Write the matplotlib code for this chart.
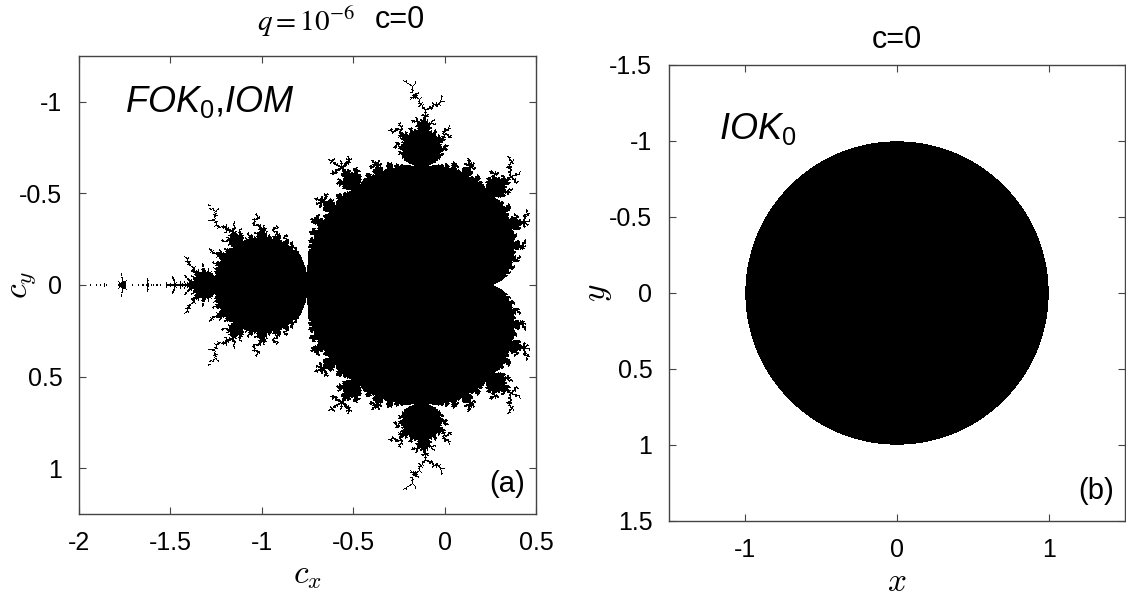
import numpy as np
import matplotlib
matplotlib.use('Agg')
import matplotlib.pyplot as plt

# Panel (a): parameter plane extent and iteration settings
cx_range = [-2.0, 0.5]
cy_range = [-1.25, 1.25]
n_iter = 400
escape_radius = 1000.0
edge_width = 0.12   # boundary thickness in pixels (distance estimate)

# Panel (b): unit disk in the x-y plane
xy_range = [-1.5, 1.5]
disk_center = (0.0, 0.0)
disk_radius = 1.0

a_xticks = [-2, -1.5, -1, -0.5, 0, 0.5]
a_xticklabels = ['-2', '-1.5', '-1', '-0.5', '0', '0.5']
a_yticks = [-1, -0.5, 0, 0.5, 1]
a_yticklabels = ['-1', '-0.5', '0', '0.5', '1']
b_xticks = [-1, 0, 1]
b_xticklabels = ['-1', '0', '1']
b_yticks = [-1.5, -1, -0.5, 0, 0.5, 1, 1.5]
b_yticklabels = ['-1.5', '-1', '-0.5', '0', '0.5', '1', '1.5']

plt.rcParams['font.family'] = ['Liberation Sans', 'DejaVu Sans']
plt.rcParams['mathtext.fontset'] = 'cm'
plt.rcParams['mathtext.it'] = 'Liberation Sans:italic'
plt.rcParams['mathtext.rm'] = 'Liberation Sans'

# Mandelbrot set on a grid close to the screen resolution, with distance estimate
nx, ny = 457, 458
cx = np.linspace(cx_range[0], cx_range[1], nx)
cy = np.linspace(cy_range[0], cy_range[1], ny)
C = cx[None, :] + 1j * cy[:, None]
Z = np.zeros_like(C)
dZ = np.zeros_like(C)
alive = np.ones(C.shape, dtype=bool)
dist = np.zeros(C.shape)
for i in range(n_iter):
    dZ[alive] = 2 * Z[alive] * dZ[alive] + 1
    Z[alive] = Z[alive] ** 2 + C[alive]
    esc = alive & (np.abs(Z) > escape_radius)
    az = np.abs(Z[esc])
    dist[esc] = 0.5 * az * np.log(az) / np.abs(dZ[esc])
    alive &= ~esc
pix = (cx_range[1] - cx_range[0]) / nx
black = alive | (dist < edge_width * pix)

# unit disk mask
gx = np.linspace(xy_range[0], xy_range[1], 456)
GX, GY = np.meshgrid(gx, gx)
disk = (GX - disk_center[0]) ** 2 + (GY - disk_center[1]) ** 2 <= disk_radius ** 2

fig = plt.figure(figsize=(11.26, 5.99), dpi=100)
W, H = 1126, 599
ax1 = fig.add_axes([79 / W, (H - 514) / H, 457 / W, 458 / H])
ax2 = fig.add_axes([669 / W, (H - 521) / H, 456 / W, 456 / H])

ax1.imshow(~black, cmap='gray', vmin=0, vmax=1, interpolation='nearest',
           extent=[cx_range[0], cx_range[1], cy_range[1], cy_range[0]], aspect='auto')
ax1.set_xlim(cx_range)
ax1.set_ylim(cy_range[1], cy_range[0])

ax2.imshow(~disk, cmap='gray', vmin=0, vmax=1, interpolation='nearest',
           extent=[xy_range[0], xy_range[1], xy_range[1], xy_range[0]], aspect='auto')
ax2.set_xlim(xy_range)
ax2.set_ylim(xy_range[1], xy_range[0])

ax1.set_xticks(a_xticks)
ax1.set_xticklabels(a_xticklabels)
ax1.set_yticks(a_yticks)
ax1.set_yticklabels(a_yticklabels)
ax2.set_xticks(b_xticks)
ax2.set_xticklabels(b_xticklabels)
ax2.set_yticks(b_yticks)
ax2.set_yticklabels(b_yticklabels)

for ax in (ax1, ax2):
    ax.tick_params(direction='in', length=5, labelsize=18, pad=12,
                   color='#444444', top=True, right=True)
    for s in ax.spines.values():
        s.set_color('#444444')
        s.set_linewidth(1.0)

ax1.set_xlabel('$c_x$', fontsize=24)
ax1.set_ylabel('$c_y$', fontsize=24)
ax2.set_xlabel('$x$', fontsize=24)
ax2.set_ylabel('$y$', fontsize=24)
ax1.xaxis.set_label_coords(0.5, -0.1)
ax1.yaxis.set_label_coords(-0.09, 0.5)
ax2.xaxis.set_label_coords(0.5, -0.1)
ax2.yaxis.set_label_coords(-0.12, 0.5)

ax1.text(0.1, 0.9, '$FOK_0$,$IOM$', transform=ax1.transAxes, fontsize=26,
         va='center', ha='left', math_fontfamily='custom')
ax2.text(0.11, 0.86, '$IOK_0$', transform=ax2.transAxes, fontsize=26,
         va='center', ha='left', math_fontfamily='custom')
ax1.text(0.975, 0.065, '(a)', transform=ax1.transAxes, fontsize=21, ha='right', va='center')
ax2.text(0.975, 0.065, '(b)', transform=ax2.transAxes, fontsize=21, ha='right', va='center')

# titles
fig.text(355 / W, 1 - 22 / H, '$q=10^{-6}$', fontsize=21, ha='right', va='center',
         math_fontfamily='stix')
fig.text(375 / W, 1 - 20 / H, 'c=0', fontsize=22, ha='left', va='center')
ax2.set_title('c=0', fontsize=22, pad=12)

fig.savefig('out.png', dpi=100)
